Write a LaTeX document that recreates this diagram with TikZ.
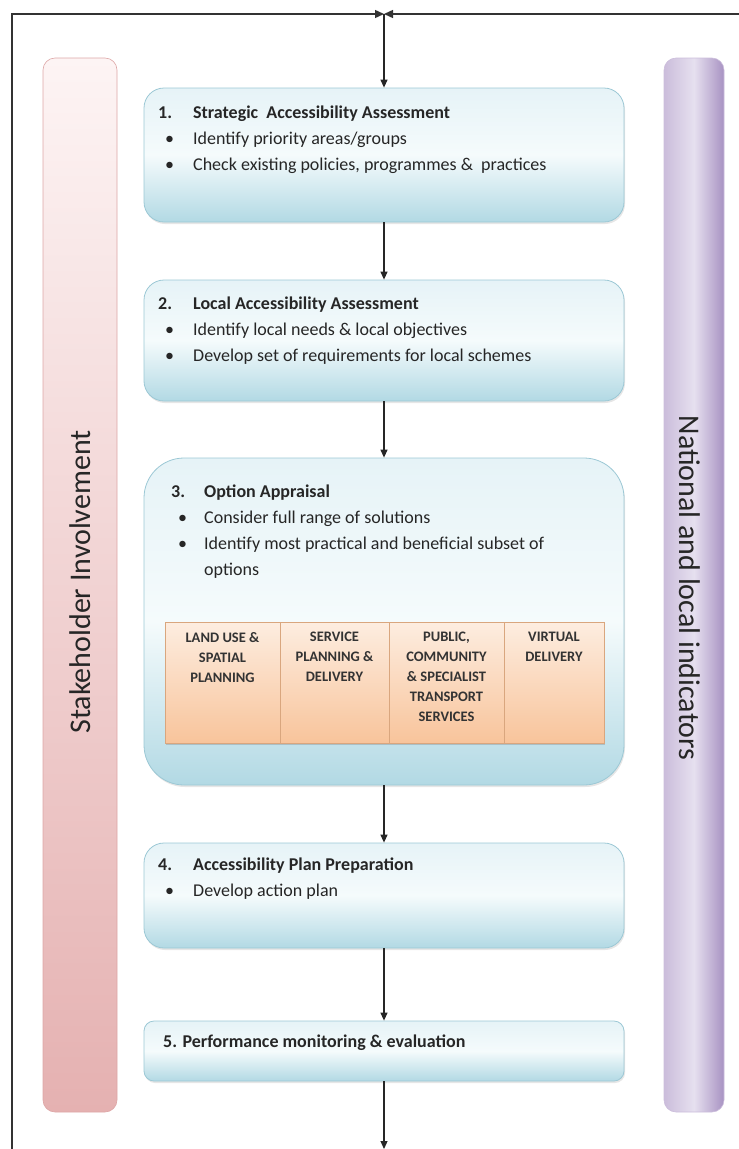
\documentclass[tikz,border=0pt]{standalone}
\usepackage{fontspec}
\setmainfont{Carlito}
\usetikzlibrary{arrows.meta,shadows}
\definecolor{boxtop}{HTML}{E6F3F7}
\definecolor{boxmid}{HTML}{F5FBFC}
\definecolor{boxbot}{HTML}{B2D9E4}
\definecolor{boxline}{HTML}{9CC8D5}
\definecolor{pinktop}{HTML}{FDF4F4}
\definecolor{pinkbot}{HTML}{E5B1B1}
\definecolor{pinkline}{HTML}{DDA6A6}
\definecolor{lilacleft}{HTML}{CBBDDB}
\definecolor{lilacmid}{HTML}{E6E0EF}
\definecolor{lilacright}{HTML}{A892C2}
\definecolor{orangetop}{HTML}{FDEDE0}
\definecolor{orangebot}{HTML}{F8C49B}
\definecolor{orangeline}{HTML}{D9A67E}
\tikzset{
	stagebox/.style={draw=boxline, line width=0.8pt, rounded corners=20pt, top color=boxtop, bottom color=boxbot, middle color=boxmid, minimum width=480pt, drop shadow={shadow xshift=1pt, shadow yshift=-2pt, opacity=0.2}},
	pinkbar/.style={draw=pinkline, line width=0.6pt, rounded corners=12pt, top color=pinktop, bottom color=pinkbot},
	lilacbar/.style={draw=lilacleft, line width=0.6pt, rounded corners=12pt, left color=lilacleft, right color=lilacright, middle color=lilacmid},
	optcell/.style={draw=orangeline, line width=0.4pt, top color=orangetop, bottom color=orangebot, minimum height=121pt, inner sep=0pt},
	steptext/.style={anchor=base west, inner sep=0pt, font=\fontsize{18}{26}\selectfont, text=black!85},
	celltext/.style={anchor=north, inner sep=0pt, align=center, font=\fontsize{14.5}{20}\selectfont\bfseries, text=black!80},
	sidetext/.style={inner sep=0pt, font=\fontsize{30}{34}\selectfont, text=black!85},
	flow/.style={line width=1.2pt, draw=black!85, -{Triangle[length=8pt,width=7pt]}},
	frameline/.style={line width=1.4pt, draw=black!80, -{Triangle[length=9pt,width=8pt]}},
}
\newcommand{\bul}{\hspace*{7pt}\textbullet}

\begin{document}
\begin{tikzpicture}[x=1pt, y=-1pt]
	%%%%% START %%%%%
	\useasboundingbox (0,0) rectangle (739,1149);
	
	% side bars
	\node[pinkbar, minimum width=74pt, minimum height=1054pt] (stake) at (80,585) {};
	\node[sidetext, rotate=90] (stakelbl) at (80,582) {Stakeholder Involvement};
	\node[lilacbar, minimum width=60pt, minimum height=1054pt] (natind) at (694,585) {};
	\node[sidetext, rotate=-90] (natlbl) at (690,588) {National and local indicators};
	
	% stages
	\node[stagebox, minimum height=134pt] (strat) at (384,155) {};
	\node[stagebox, minimum height=121pt] (local) at (384,340.5) {};
	\node[stagebox, rounded corners=40pt, minimum height=327pt] (option) at (384,621.5) {};
	\node[stagebox, minimum height=105pt] (plan) at (384,895.5) {};
	\node[stagebox, rounded corners=10pt, minimum height=60pt] (monitor) at (384,1051) {};
	
	\node[steptext] (strattxt) at (158,118) {\begin{tabular}[t]{@{}p{35pt}@{}l@{}}
			\textbf{1.} & \textbf{Strategic\ \ Accessibility Assessment}\\
			\bul & Identify priority areas/groups\\
			\bul & Check existing policies, programmes \&\ \ practices
		\end{tabular}};
	\node[steptext] (localtxt) at (158,309) {\begin{tabular}[t]{@{}p{35pt}@{}l@{}}
			\textbf{2.} & \textbf{Local Accessibility Assessment}\\
			\bul & Identify local needs \& local objectives\\
			\bul & Develop set of requirements for local schemes
		\end{tabular}};
	\node[steptext] (optiontxt) at (171,497) {\begin{tabular}[t]{@{}p{33pt}@{}l@{}}
			\textbf{3.} & \textbf{Option Appraisal}\\
			\bul & Consider full range of solutions\\
			\bul & Identify most practical and beneficial subset of\\
			& options
		\end{tabular}};
	\node[steptext] (plantxt) at (158,870) {\begin{tabular}[t]{@{}p{35pt}@{}l@{}}
			\textbf{4.} & \textbf{Accessibility Plan Preparation}\\
			\bul & Develop action plan
		\end{tabular}};
	\node[steptext] (monitortxt) at (163,1047) {\textbf{5. Performance monitoring \& evaluation}};
	
	% option types
	\node[draw=none, fill=orangebot, minimum width=439pt, minimum height=121pt, inner sep=0pt, drop shadow={shadow xshift=1pt, shadow yshift=-2pt, opacity=0.35}] (opttable) at (384.5,682.5) {};
	\node[optcell, minimum width=115pt] (landuse) at (222.5,682.5) {};
	\node[optcell, minimum width=109pt] (service) at (334.5,682.5) {};
	\node[optcell, minimum width=115pt] (public) at (446.5,682.5) {};
	\node[optcell, minimum width=100pt] (virtual) at (554,682.5) {};
	\node[celltext] (landusetxt) at ([yshift=-10pt]landuse.north) {LAND USE \&\\SPATIAL\\PLANNING};
	\node[celltext] (servicetxt) at ([yshift=-10pt]service.north) {SERVICE\\PLANNING \&\\DELIVERY};
	\node[celltext] (publictxt) at ([yshift=-10pt]public.north) {PUBLIC,\\COMMUNITY\\\& SPECIALIST\\TRANSPORT\\SERVICES};
	\node[celltext] (virtualtxt) at ([yshift=-10pt]virtual.north) {VIRTUAL\\DELIVERY};
	
	% loop and flow
	\coordinate (meet) at (384,14);
	\coordinate (lowleft) at (12,1150);
	\coordinate (upleft) at (12,14);
	\coordinate (upright) at (739,14);
	\coordinate (loopend) at (384,1149);
	\draw[frameline] (lowleft) -- (upleft) -- (meet);
	\draw[frameline] (upright) -- (meet);
	\draw[flow] (meet) -- (strat);
	\draw[flow] (strat) -- (local);
	\draw[flow] (local) -- (option);
	\draw[flow] (option) -- (plan);
	\draw[flow] (plan) -- (monitor);
	\draw[flow] (monitor) -- (loopend);
	
	%%%%% END %%%%%
\end{tikzpicture}
\end{document}
